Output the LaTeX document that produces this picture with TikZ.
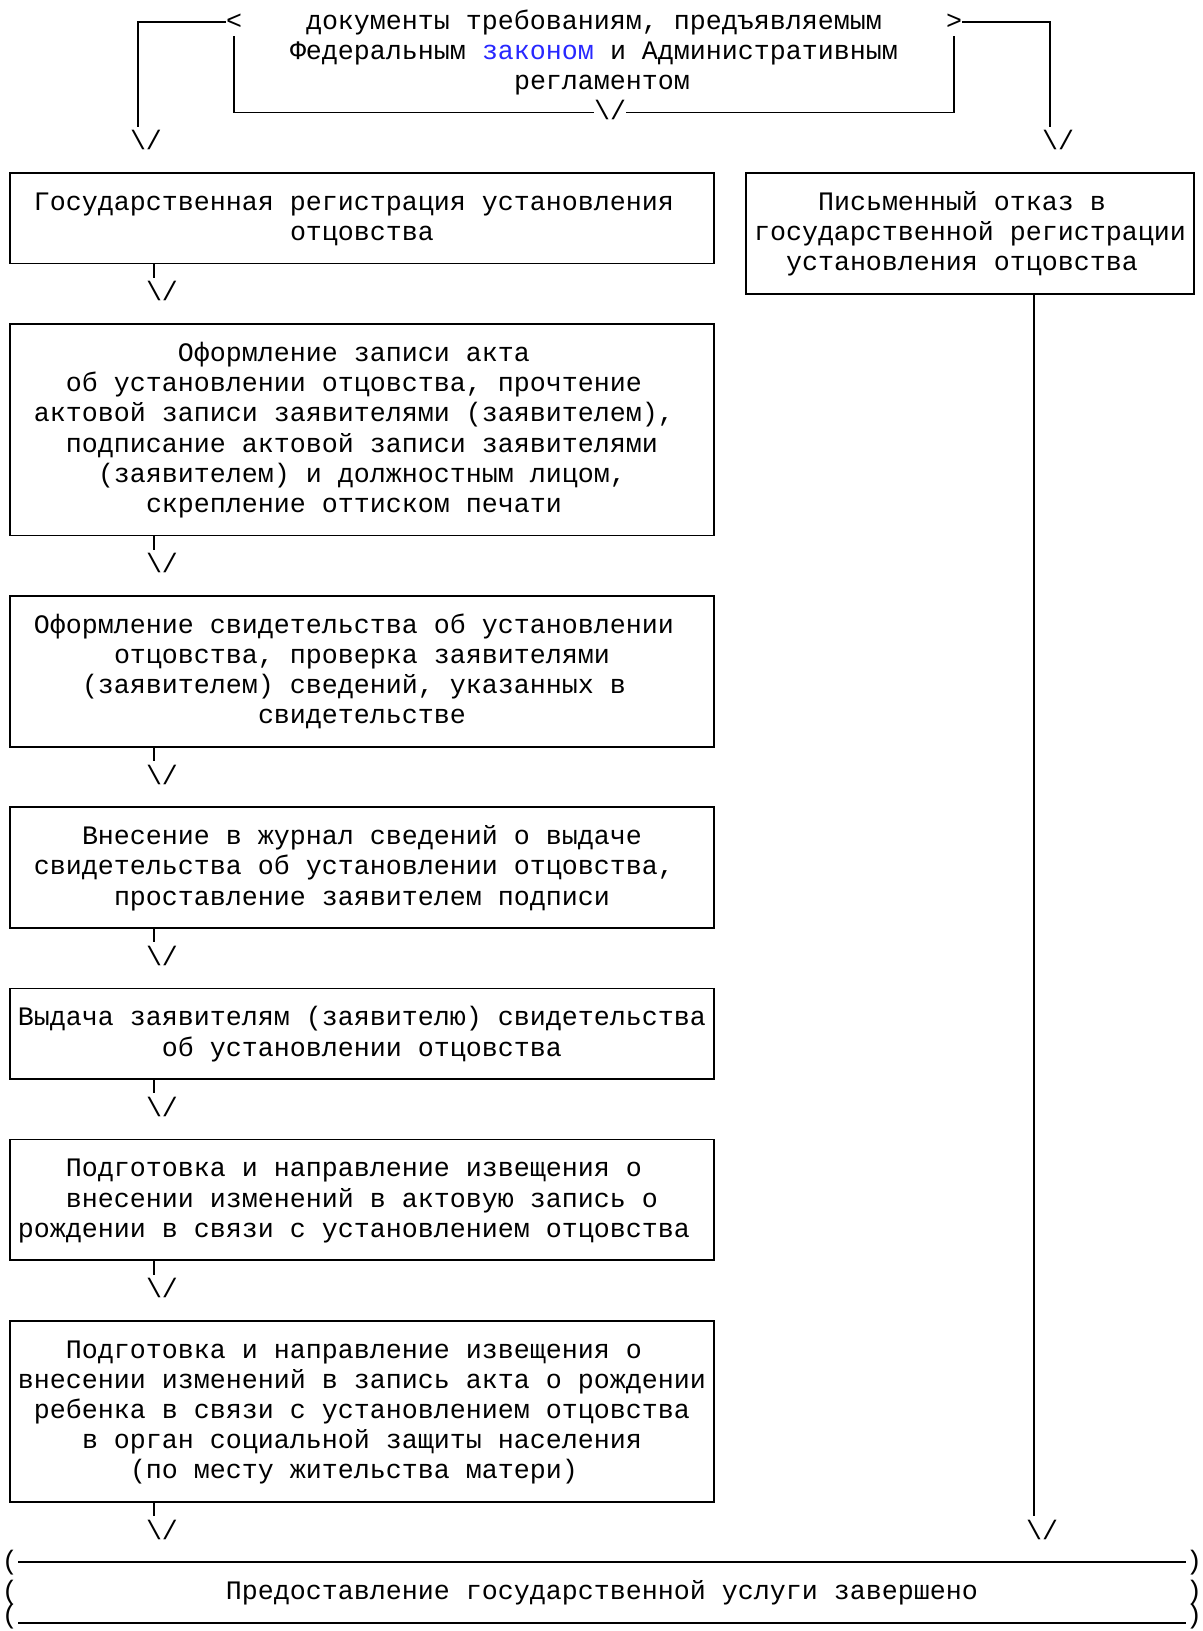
\documentclass[tikz,border=0pt]{standalone}
\usepackage{fontspec}
\setmainfont{Liberation Mono}
\frenchspacing
\newlength\px \setlength\px{0.5pt}
\newlength\bw
\newcommand\BoxTxt[3]{\vbox to #2\px{\hsize=#1\px \bw=#1\px \baselineskip=15.1pt \lineskiplimit=-100pt \lineskip=0pt \hbox{}\vskip 3.6pt #3\vss}}
\newcommand\TxLine[2]{\hbox to \bw{\hskip #1\px\relax #2\hss}}
\definecolor{lawblue}{RGB}{40,40,255}
\begin{document}
\begin{tikzpicture}[x=0.5pt,y=-0.5pt,
  every node/.style={font=\fontsize{13.331pt}{15.1pt}\selectfont, inner sep=0pt, outer sep=0pt},
  box/.style={draw, line width=0.9pt, anchor=north west},
  glyph/.style={anchor=base west, text height=7.2pt, text depth=0pt},
  arr/.style={anchor=north, text height=9.5pt, text depth=0pt},
  conn/.style={line width=0.9pt, shorten >=2pt},
  frame/.style={line width=0.9pt}]
\useasboundingbox (0,0) rectangle (1203,1631);

% top condition bracket
\node[anchor=north west] (cond) at (234,-8.2) {\BoxTxt{720}{120.8}{
 \TxLine{72}{документы требованиям, предъявляемым}
 \TxLine{56}{Федеральным \textcolor{lawblue}{законом} и Административным}
 \TxLine{280}{регламентом}}};
\node[glyph] (lt) at (226,29.2) {<};
\node[glyph] (gt) at (946,29.2) {>};
\node[arr] (ain) at (610,100.8) {\textbackslash/};
\draw[frame] (234,36.4) -- (cond.south west) -- (ain.west |- cond.south);
\draw[frame] (ain.east |- cond.south) -- (cond.south east) -- (954,36.4);
\node[arr] (aL) at (146,131) {\textbackslash/};
\node[arr] (aR) at (1058,131) {\textbackslash/};
\coordinate (aLs) at ([xshift=-4pt]aL.north);
\coordinate (aRs) at ([xshift=-4pt]aR.north);
\draw[conn] (lt.west) -| (aLs);
\draw[conn] (gt.east) -| (aRs);

% boxes
\node[box] (b1) at (10,173) {\BoxTxt{704}{90.6}{
 \TxLine{24}{Государственная регистрация установления}
 \TxLine{280}{отцовства}}};
\node[box] (rb) at (746,173) {\BoxTxt{448}{120.8}{
 \TxLine{72}{Письменный отказ в}
 \TxLine{8}{государственной регистрации}
 \TxLine{40}{установления отцовства}}};
\node[box] (b2) at (10,324) {\BoxTxt{704}{211.4}{
 \TxLine{168}{Оформление записи акта}
 \TxLine{56}{об установлении отцовства, прочтение}
 \TxLine{24}{актовой записи заявителями (заявителем),}
 \TxLine{56}{подписание актовой записи заявителями}
 \TxLine{88}{(заявителем) и должностным лицом,}
 \TxLine{136}{скрепление оттиском печати}}};
\node[box] (b3) at (10,595.8) {\BoxTxt{704}{151}{
 \TxLine{24}{Оформление свидетельства об установлении}
 \TxLine{104}{отцовства, проверка заявителями}
 \TxLine{72}{(заявителем) сведений, указанных в}
 \TxLine{248}{свидетельстве}}};
\node[box] (b4) at (10,807.2) {\BoxTxt{704}{120.8}{
 \TxLine{72}{Внесение в журнал сведений о выдаче}
 \TxLine{24}{свидетельства об установлении отцовства,}
 \TxLine{104}{проставление заявителем подписи}}};
\node[box] (b5) at (10,988.4) {\BoxTxt{704}{90.6}{
 \TxLine{8}{Выдача заявителям (заявителю) свидетельства}
 \TxLine{152}{об установлении отцовства}}};
\node[box] (b6) at (10,1139.4) {\BoxTxt{704}{120.8}{
 \TxLine{56}{Подготовка и направление извещения о}
 \TxLine{56}{внесении изменений в актовую запись о}
 \TxLine{8}{рождении в связи с установлением отцовства}}};
\node[box] (b7) at (10,1320.6) {\BoxTxt{704}{181.2}{
 \TxLine{56}{Подготовка и направление извещения о}
 \TxLine{8}{внесении изменений в запись акта о рождении}
 \TxLine{24}{ребенка в связи с установлением отцовства}
 \TxLine{72}{в орган социальной защиты населения}
 \TxLine{120}{(по месту жительства матери)}}};

% arrow heads
\node[arr] (a1) at (162,282) {\textbackslash/};
\node[arr] (a2) at (162,553.8) {\textbackslash/};
\node[arr] (a3) at (162,765.2) {\textbackslash/};
\node[arr] (a4) at (162,946.4) {\textbackslash/};
\node[arr] (a5) at (162,1097.4) {\textbackslash/};
\node[arr] (a6) at (162,1278.6) {\textbackslash/};
\node[arr] (a7) at (162,1520.2) {\textbackslash/};
\node[arr] (aR2) at (1042,1520.2) {\textbackslash/};
\foreach \a in {a1,a2,a3,a4,a5,a6,a7,aR2}{\coordinate (\a s) at ([xshift=-4pt]\a.north);}

% connectors
\draw[conn] (b1.south -| a1s) -- (a1s);
\draw[conn] (b2.south -| a2s) -- (a2s);
\draw[conn] (b3.south -| a3s) -- (a3s);
\draw[conn] (b4.south -| a4s) -- (a4s);
\draw[conn] (b5.south -| a5s) -- (a5s);
\draw[conn] (b6.south -| a6s) -- (a6s);
\draw[conn] (b7.south -| a7s) -- (a7s);
\draw[conn] (rb.south -| aR2s) -- (aR2s);

% final terminator
\node[anchor=north west] (fin) at (2,1532) {\BoxTxt{1200}{97}{
 \hbox to\bw{(\hfill)}
 \hbox to\bw{(\hskip 208\px\relax Предоставление государственной услуги завершено\hfill)}
 \hbox to\bw{\raise3pt\hbox{(}\hfill\raise3pt\hbox{)}}}};
\draw[frame] (18,1562.2) -- (1186,1562.2);
\draw[frame] (18,1622.6) -- (1186,1622.6);
\end{tikzpicture}
\end{document}
